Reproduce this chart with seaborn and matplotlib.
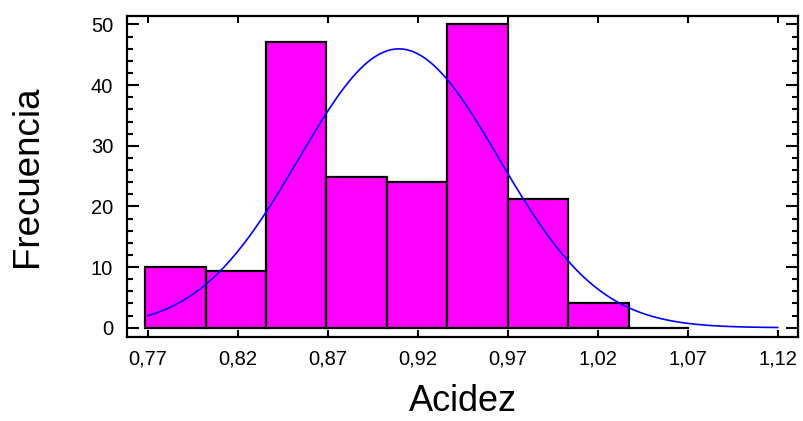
import numpy as np
import pandas as pd
import matplotlib
matplotlib.use("Agg")
import matplotlib.pyplot as plt
from matplotlib.ticker import FixedLocator, MultipleLocator
import seaborn as sns

# Histogram of acidity: bin edges and frequencies
bin_edges = [0.7685, 0.8021, 0.8357, 0.8693, 0.9029, 0.9365, 0.9701, 1.0037, 1.0373, 1.0709]
frequencies = [10.0, 9.3, 47.1, 24.9, 24.1, 50.0, 21.2, 4.1, 0.0]

# Fitted normal distribution (mean, std dev) and curve range
fit_mean = 0.9095
fit_sd = 0.0556
curve_range = [0.77, 1.12]

# Axis ticks
x_ticks = [0.77, 0.82, 0.87, 0.92, 0.97, 1.02, 1.07, 1.12]
x_tick_labels = ["0,77", "0,82", "0,87", "0,92", "0,97", "1,02", "1,07", "1,12"]
y_ticks = [0, 10, 20, 30, 40, 50]

sns.set_theme(style="white")
plt.rcParams["font.family"] = ["Liberation Sans", "DejaVu Sans"]
for key in ["text.color", "axes.labelcolor", "xtick.color", "ytick.color", "axes.edgecolor"]:
    plt.rcParams[key] = "black"

fig = plt.figure(figsize=(8.04, 4.21), dpi=100)
ax = fig.add_axes([0.158, 0.2, 0.8345, 0.762])

centers = [(a + b) / 2 for a, b in zip(bin_edges[:-1], bin_edges[1:])]
hist_df = pd.DataFrame({"Acidez": centers, "count": frequencies})
sns.histplot(data=hist_df, x="Acidez", weights="count", bins=bin_edges,
             color="#FF00FF", edgecolor="black", linewidth=1.6, alpha=1.0, ax=ax)

# Normal curve scaled to the histogram (n * bin width * pdf)
n_total = sum(frequencies)
bin_width = bin_edges[1] - bin_edges[0]
xs = np.linspace(curve_range[0], curve_range[1], 300)
pdf = np.exp(-0.5 * ((xs - fit_mean) / fit_sd) ** 2) / (fit_sd * np.sqrt(2 * np.pi))
curve_df = pd.DataFrame({"x": xs, "y": n_total * bin_width * pdf})
sns.lineplot(data=curve_df, x="x", y="y", color="#0000FF", linewidth=1.2, ax=ax)

ax.set_xlim(0.7585, 1.1312)
ax.set_ylim(-1.5, 51.4)

ax.xaxis.set_major_locator(FixedLocator(x_ticks))
ax.set_xticklabels(x_tick_labels)
ax.yaxis.set_major_locator(FixedLocator(y_ticks))
ax.yaxis.set_minor_locator(MultipleLocator(2))
ax.set_yticklabels([str(v) for v in y_ticks])

ax.tick_params(axis="x", which="major", direction="in", length=5, width=1.5,
               top=True, bottom=True, labelsize=14.5, pad=9.5)
ax.tick_params(axis="y", which="major", direction="in", length=8.6, width=1.5,
               left=True, right=True, labelsize=14.5, pad=10)
ax.tick_params(axis="y", which="minor", direction="in", length=4.3, width=1.5,
               left=True, right=True)

for side in ["left", "right", "top", "bottom"]:
    ax.spines[side].set_visible(True)
    ax.spines[side].set_linewidth(1.6)

ax.set_xlabel("Acidez", fontsize=26, labelpad=11)
ax.set_ylabel("Frecuencia", fontsize=26.5, labelpad=33)
ax.grid(False)

fig.savefig("out.png", dpi=100)
